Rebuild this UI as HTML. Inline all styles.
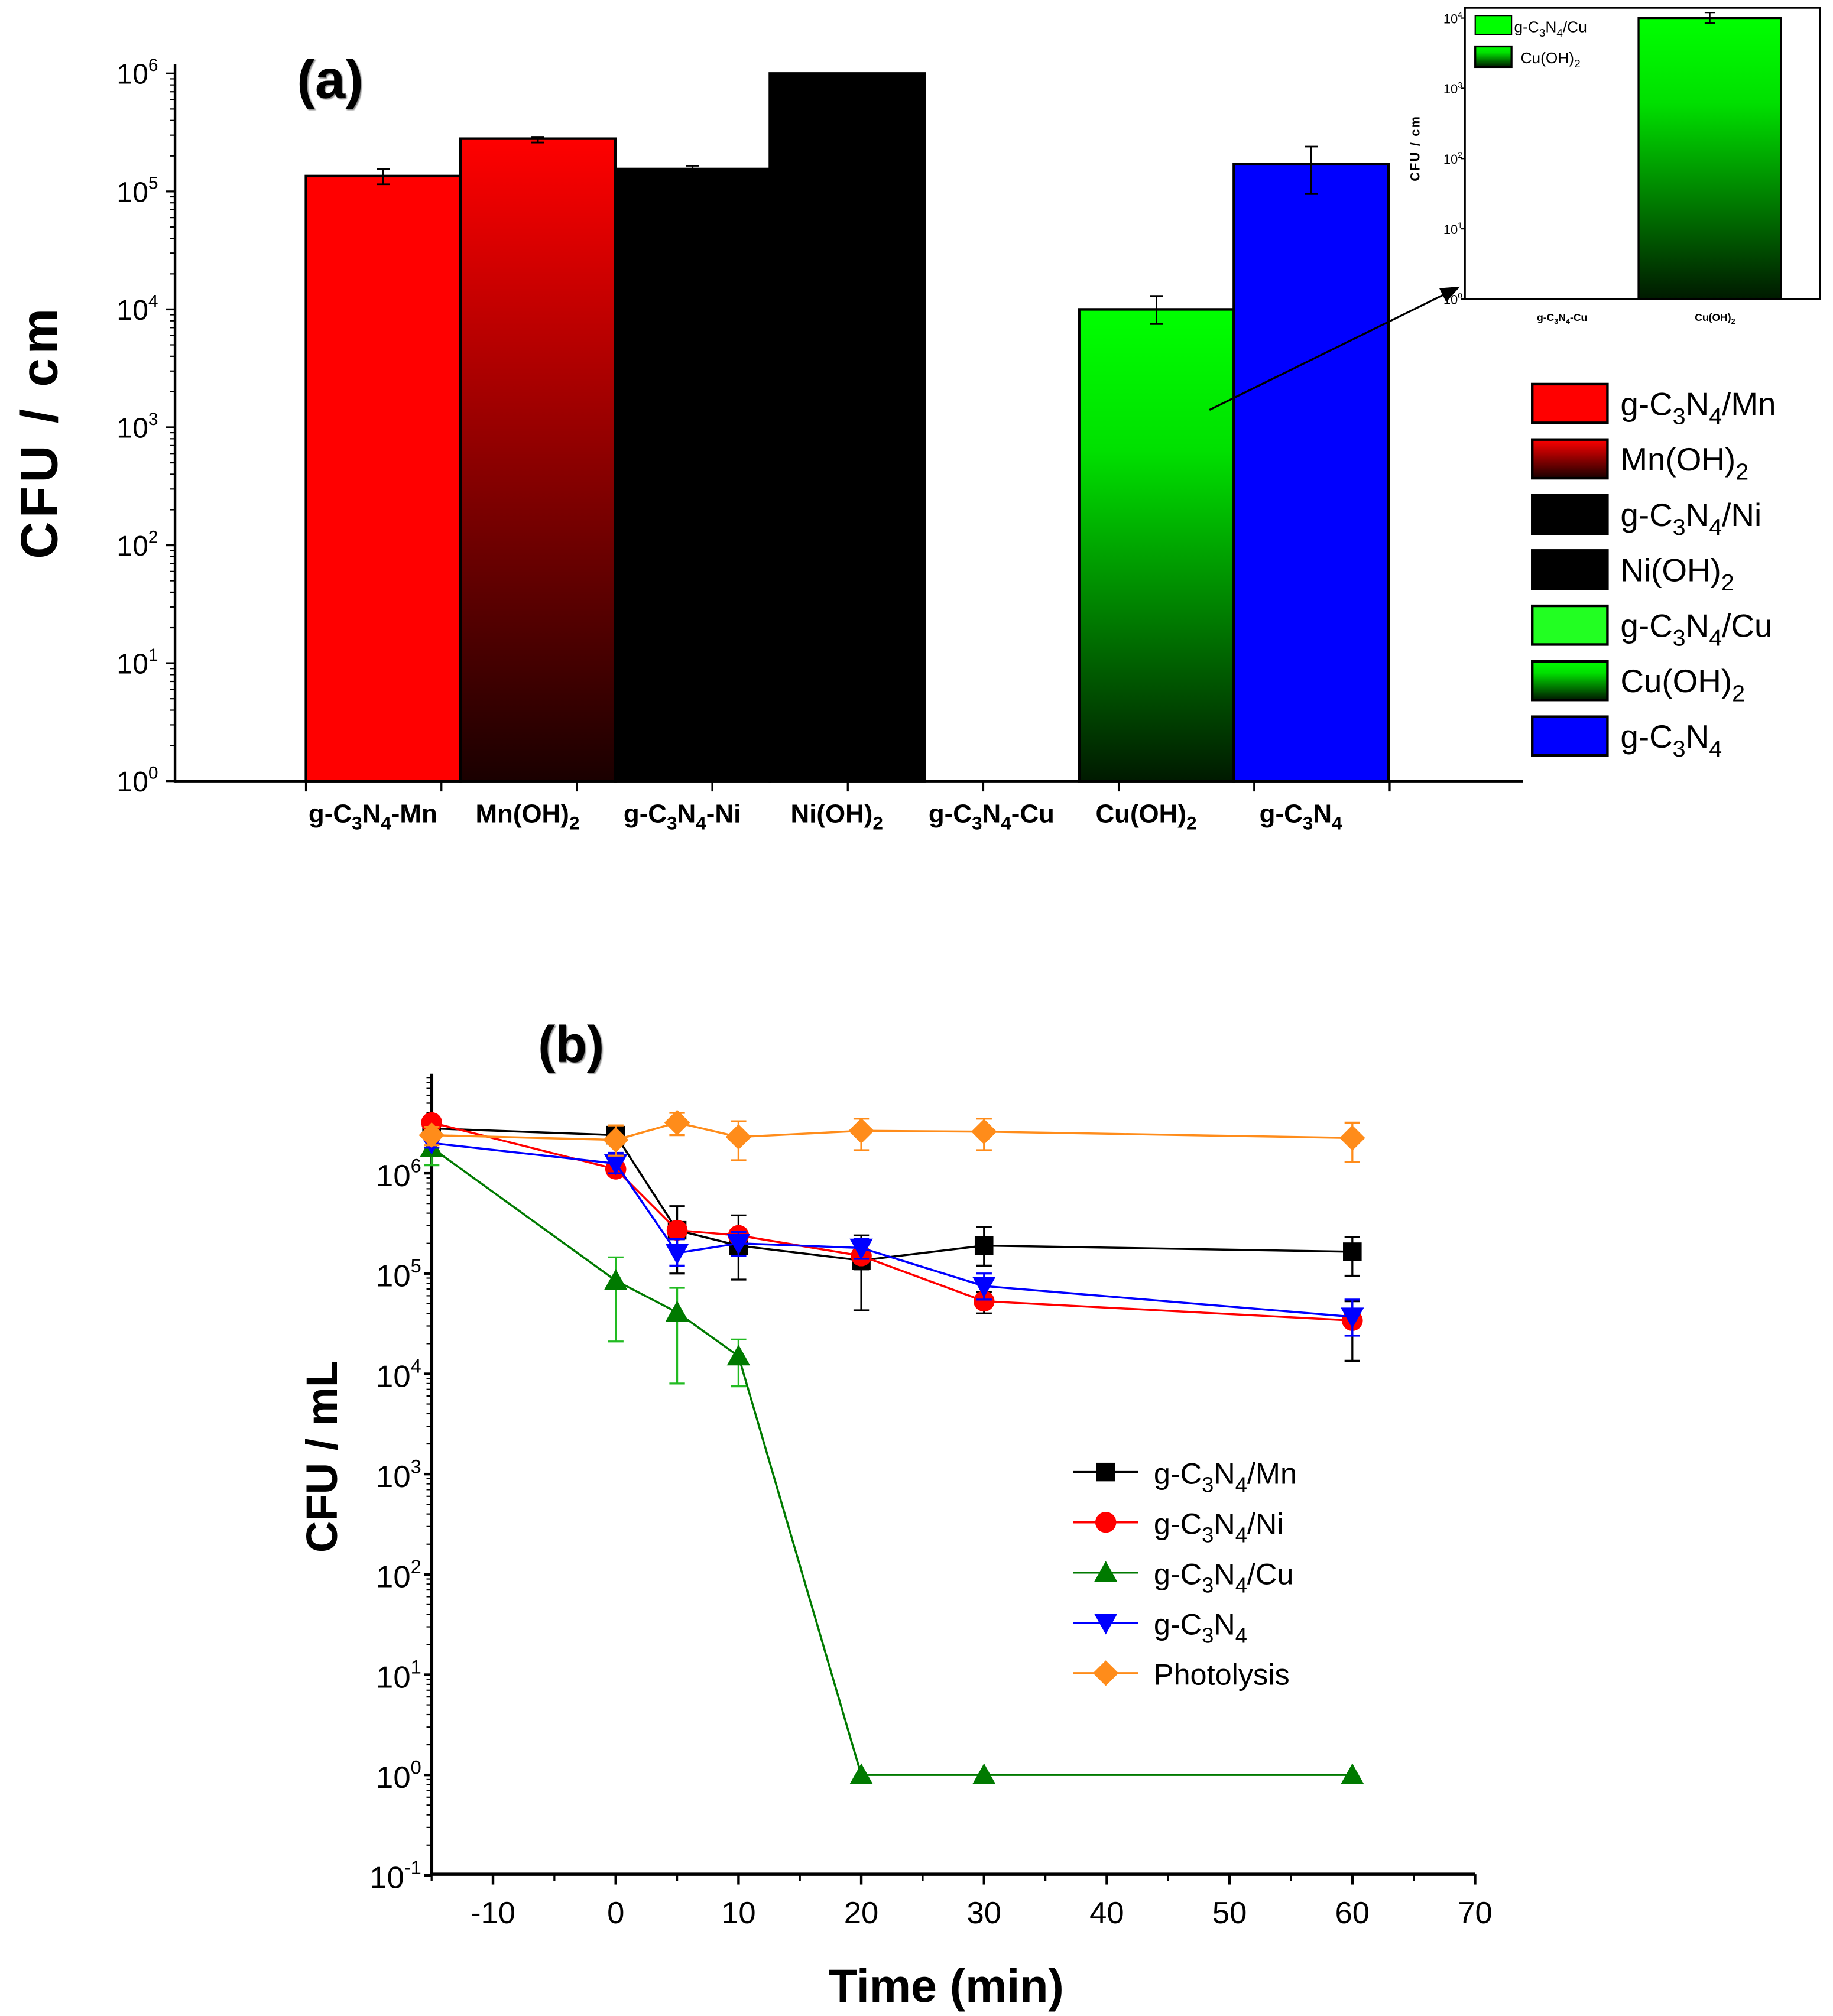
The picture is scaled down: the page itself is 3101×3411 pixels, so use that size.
<!DOCTYPE html>
<html><head><meta charset="utf-8"><style>
html,body{margin:0;padding:0;background:#fff;}
svg{display:block;}
text{font-family:"Liberation Sans Narrow","Liberation Sans",sans-serif;}
.b{font-family:"Liberation Sans",sans-serif;font-weight:bold;}
</style></head><body>
<svg id="fig" width="3101" height="3411" viewBox="0 0 1414 1564" preserveAspectRatio="none" xmlns="http://www.w3.org/2000/svg">
<defs>
<linearGradient id="gRed" x1="0" y1="0" x2="0" y2="1"><stop offset="0" stop-color="#ff0000"/><stop offset="1" stop-color="#1a0000"/></linearGradient>
<linearGradient id="gGreen" x1="0" y1="0" x2="0" y2="1"><stop offset="0" stop-color="#00ff00"/><stop offset="0.3" stop-color="#00e000"/><stop offset="1" stop-color="#001a00"/></linearGradient>
<marker id="arr" markerWidth="10" markerHeight="8" refX="9" refY="4" orient="auto"><path d="M0,0 L10,4 L0,8 z" fill="#000"/></marker>
</defs>
<g id="pa"></g>
<g id="inset"></g>
<g id="pb"></g>
</svg>
<script>
// ---- Panel (a) data ----
const barCats = ["g-C3N4-Mn","Mn(OH)2","g-C3N4-Ni","Ni(OH)2","g-C3N4-Cu","Cu(OH)2","g-C3N4"];
const barVals = [1.35e5, 2.8e5, 1.55e5, 1e6, 1, 1e4, 1.7e5];
const barErrHi = [1.55e5, 2.9e5, 1.65e5, null, null, 1.3e4, 2.4e5];
const barErrLo = [1.15e5, 2.6e5, 1.5e5, null, null, 7.5e3, 9.5e4];
const barFills = ["#ff0000","url(#gRed)","#000","#000","#22ff22","url(#gGreen)","#0000ff"];
const legendA = ["g-C|3|N|4|/Mn","Mn(OH)|2|","g-C|3|N|4|/Ni","Ni(OH)|2|","g-C|3|N|4|/Cu","Cu(OH)|2|","g-C|3|N|4|"];
const legendAFills = ["#ff0000","url(#gRed)","#000","#000","#22ff22","url(#gGreen)","#0000ff"];
const decadesA = [0,1,2,3,4,5,6];
// inset
const insetCats = ["g-C3N4-Cu","Cu(OH)2"];
const insetVals = [1, 1e4];
const insetErrHi = [null, 1.2e4];
const insetErrLo = [null, 8.5e3];
const decadesI = [0,1,2,3,4];
// ---- Panel (b) data ----
const times = [-15,0,5,10,20,30,60];
const sMn = [2.8e6,2.4e6,2.7e5,1.9e5,1.35e5,1.9e5,1.65e5];
const sMnHi = [3.0e6,2.7e6,4.7e5,3.8e5,2.4e5,2.9e5,2.3e5];
const sMnLo = [2.6e6,2.1e6,1.0e5,8.7e4,4.3e4,1.2e5,9.5e4];
const sNi = [3.2e6,1.1e6,2.7e5,2.4e5,1.5e5,5.3e4,3.4e4];
const sNiHi = [3.4e6,1.2e6,3.2e5,2.8e5,1.9e5,6.5e4,5.3e4];
const sNiLo = [3.0e6,1.0e6,2.2e5,2.0e5,1.1e5,4.0e4,1.35e4];
const sCu = [1.8e6,8.5e4,4.1e4,1.5e4,1,1,1];
const sCuHi = [2.4e6,1.45e5,7.2e4,2.2e4,1,1,1];
const sCuLo = [1.2e6,2.1e4,8e3,7.5e3,1,1,1];
const sCN = [2.0e6,1.25e6,1.6e5,2.0e5,1.8e5,7.5e4,3.7e4];
const sCNHi = [2.2e6,1.6e6,2.2e5,2.6e5,2.2e5,1.0e5,5.5e4];
const sCNLo = [1.8e6,1.0e6,1.2e5,1.5e5,1.4e5,5.5e4,2.4e4];
const sPh = [2.4e6,2.15e6,3.2e6,2.3e6,2.65e6,2.6e6,2.25e6];
const sPhHi = [2.9e6,3.0e6,4.0e6,3.3e6,3.5e6,3.5e6,3.2e6];
const sPhLo = [1.9e6,1.5e6,2.4e6,1.35e6,1.7e6,1.7e6,1.3e6];
const xTicksB = [-10,0,10,20,30,40,50,60,70];
const decadesB = [-1,0,1,2,3,4,5,6];

const NS="http://www.w3.org/2000/svg";
function mk(parent,tag,attrs){const e=document.createElementNS(NS,tag);for(const k in attrs)e.setAttribute(k,attrs[k]);parent.appendChild(e);return e;}
function subText(parent,x,y,str,size,cls,anchor){
  const t=mk(parent,'text',{x:x,y:y,'font-size':size,'text-anchor':anchor||'start'});
  if(cls)t.setAttribute('class',cls);
  const parts=str.split('|');
  parts.forEach((p,i)=>{if(!p)return;const s=mk(t,'tspan',{});s.textContent=p;
    if(i%2===1){s.setAttribute('dy',size*0.28);s.setAttribute('font-size',size*0.72);}
    else if(i>0){s.setAttribute('dy',-size*0.28);}});
  return t;
}
function powText(parent,x,y,exp,size,anchor){
  const t=mk(parent,'text',{x:x,y:y,'font-size':size,'text-anchor':anchor||'end'});
  const a=mk(t,'tspan',{});a.textContent='10';
  const b=mk(t,'tspan',{dy:-size*0.45,'font-size':size*0.62});b.textContent=String(exp);
  return t;
}

// ===== Panel A =====
const pa=document.getElementById('pa');
const AX0=135, AY0=606, AX1=1175, DEC=91.5;
const ya=v=>AY0-Math.log10(v)*DEC;
const bw=119.3, bx0=236;
const xa=i=>bx0+i*bw;
barVals.forEach((v,i)=>{
  if(v>1){
    const r=mk(pa,'rect',{x:xa(i),y:ya(v),width:bw,height:AY0-ya(v),fill:barFills[i],stroke:'#000','stroke-width':2});
    
    
  }
  if(barErrHi[i]){
    const cx=xa(i)+bw/2, g=mk(pa,'g',{stroke:'#000','stroke-width':1.3});
    
    
    mk(g,'line',{x1:cx,x2:cx,y1:ya(barErrHi[i]),y2:ya(barErrLo[i])});
    mk(g,'line',{x1:cx-5,x2:cx+5,y1:ya(barErrHi[i]),y2:ya(barErrHi[i])});
    mk(g,'line',{x1:cx-5,x2:cx+5,y1:ya(barErrLo[i]),y2:ya(barErrLo[i])});
  }
});
mk(pa,'line',{x1:AX0,x2:AX0,y1:50,y2:AY0+1,stroke:'#000','stroke-width':2});
mk(pa,'line',{x1:AX0,x2:AX1,y1:AY0,y2:AY0,stroke:'#000','stroke-width':2});
decadesA.forEach(d=>{
  mk(pa,'line',{x1:AX0-7,x2:AX0,y1:ya(10**d),y2:ya(10**d),stroke:'#000','stroke-width':1.5});
  const t=powText(pa,AX0-13,ya(10**d)+8,d,22,'end');
  
  
  if(d<6)for(let m=2;m<10;m++){const yy=ya(m*10**d);mk(pa,'line',{x1:AX0-4,x2:AX0,y1:yy,y2:yy,stroke:'#000','stroke-width':1});}
});
for(let k=0;k<9;k++){const x=236+k*104.5;mk(pa,'line',{x1:x,x2:x,y1:AY0,y2:AY0+8,stroke:'#000','stroke-width':1.5});}
const aLabels=["g-C|3|N|4|-Mn","Mn(OH)|2|","g-C|3|N|4|-Ni","Ni(OH)|2|","g-C|3|N|4|-Cu","Cu(OH)|2|","g-C|3|N|4|"];
aLabels.forEach((s,i)=>{const t=subText(pa,xa(i)+bw/2-8,638,s,20,'b','middle');
  
  });
const yla=mk(pa,'text',{x:0,y:0,'font-size':40,'text-anchor':'middle',transform:'translate(44,335) rotate(-90)','class':'b','letter-spacing':3});
yla.textContent='CFU / cm';


const ta=mk(pa,'text',{x:229,y:76,'font-size':42,'class':'b',fill:'#000',style:'text-shadow:2px 2px 2px #888'});
ta.textContent='(a)';


legendA.forEach((s,i)=>{
  const y=313+i*43;
  const g=mk(pa,'g',{});
  
  
  mk(g,'rect',{x:1182,y:y-15,width:58,height:30,fill:legendAFills[i],stroke:'#000','stroke-width':2});
  subText(g,1250,y+9,s,25,null,'start');
});
const arr=mk(pa,'line',{x1:933,y1:318,x2:1125,y2:223,stroke:'#000','stroke-width':1.5,'marker-end':'url(#arr)'});



// ===== Inset =====
const ins=document.getElementById('inset');
const IX0=1130, IX1=1404, IY0=232, ITOP=6;
const yi=v=>IY0-Math.log10(v)*54.5;
mk(ins,'rect',{x:IX0,y:ITOP,width:IX1-IX0,height:IY0-ITOP,fill:'none',stroke:'#000','stroke-width':1.5});
insetVals.forEach((v,i)=>{
  const x=1138+i*126;
  if(v>1){const r=mk(ins,'rect',{x:x,y:yi(v),width:110,height:IY0-yi(v),fill:'url(#gGreen)',stroke:'#000','stroke-width':1.5});
    
    }
  if(insetErrHi[i]){const cx=x+55;const g=mk(ins,'g',{stroke:'#000','stroke-width':1});
    mk(g,'line',{x1:cx,x2:cx,y1:yi(insetErrHi[i]),y2:yi(insetErrLo[i])});
    mk(g,'line',{x1:cx-4,x2:cx+4,y1:yi(insetErrHi[i]),y2:yi(insetErrHi[i])});
    mk(g,'line',{x1:cx-4,x2:cx+4,y1:yi(insetErrLo[i]),y2:yi(insetErrLo[i])});}
});
decadesI.forEach(d=>{powText(ins,IX0-2,yi(10**d)+4,d,10,'end');
  mk(ins,'line',{x1:IX0-3,x2:IX0,y1:yi(10**d),y2:yi(10**d),stroke:'#000'});});
const iyl=mk(ins,'text',{x:0,y:0,'font-size':10,'text-anchor':'middle',transform:'translate(1095,115) rotate(-90)','class':'b','letter-spacing':1});
iyl.textContent='CFU / cm';
subText(ins,1205,249,"g-C|3|N|4|-Cu",8,'b','middle');
subText(ins,1323,249,"Cu(OH)|2|",8,'b','middle');
mk(ins,'rect',{x:1138,y:12,width:28,height:15,fill:'#00ff00',stroke:'#000','stroke-width':1});
mk(ins,'rect',{x:1138,y:36,width:28,height:16,fill:'url(#gGreen)',stroke:'#000','stroke-width':1.5});
subText(ins,1168,25,"g-C|3|N|4|/Cu",12,null,'start');
subText(ins,1173,49,"Cu(OH)|2|",12,null,'start');

// ===== Panel B =====
const pb=document.getElementById('pb');
const BX0=333, BY0=1454, BTOP=833, BX1=1138;
const xb=t=>475+t*9.47;
const yb=v=>1377-Math.log10(v)*77.8;
mk(pb,'line',{x1:BX0,x2:BX0,y1:BTOP,y2:BY0,stroke:'#000','stroke-width':2.5});
mk(pb,'line',{x1:BX0,x2:BX1,y1:BY0,y2:BY0,stroke:'#000','stroke-width':2.5});
decadesB.forEach(d=>{
  mk(pb,'line',{x1:BX0-6,x2:BX0,y1:yb(10**d),y2:yb(10**d),stroke:'#000','stroke-width':2});
  const t=powText(pb,BX0-8,yb(10**d)+10,d,24,'end');
  
  
  for(let m=2;m<10;m++){const yy=yb(m*10**d);if(yy>=BTOP)mk(pb,'line',{x1:BX0-4,x2:BX0,y1:yy,y2:yy,stroke:'#000','stroke-width':1});}
});
for(let m=2;m<=8;m++){const yy=yb(m*1e6);if(yy>=BTOP)mk(pb,'line',{x1:BX0-4,x2:BX0,y1:yy,y2:yy,stroke:'#000','stroke-width':1});}
xTicksB.forEach(t=>{
  mk(pb,'line',{x1:xb(t),x2:xb(t),y1:BY0,y2:BY0+8,stroke:'#000','stroke-width':2});
  mk(pb,'line',{x1:xb(t-5),x2:xb(t-5),y1:BY0,y2:BY0+5,stroke:'#000','stroke-width':1.5});
  const tx=mk(pb,'text',{x:xb(t),y:BY0+38,'font-size':24,'text-anchor':'middle'});tx.textContent=String(t);
  
  
});
function marker(g,type,x,y,c){
  const s=9;
  if(type==='sq')mk(g,'rect',{x:x-s*0.8,y:y-s*0.8,width:s*1.6,height:s*1.6,fill:c});
  else if(type==='ci')mk(g,'circle',{cx:x,cy:y,r:s*0.9,fill:c});
  else if(type==='up')mk(g,'polygon',{points:`${x},${y-s} ${x-s},${y+s*0.8} ${x+s},${y+s*0.8}`,fill:c});
  else if(type==='dn')mk(g,'polygon',{points:`${x},${y+s} ${x-s},${y-s*0.8} ${x+s},${y-s*0.8}`,fill:c});
  else mk(g,'polygon',{points:`${x},${y-s*1.1} ${x+s*1.1},${y} ${x},${y+s*1.1} ${x-s*1.1},${y}`,fill:c});
}
const series=[
 {name:'g-C3N4-Mn',v:sMn,hi:sMnHi,lo:sMnLo,c:'#000',ec:'#000',m:'sq',lab:'g-C|3|N|4|/Mn'},
 {name:'g-C3N4-Ni',v:sNi,hi:sNiHi,lo:sNiLo,c:'#ff0000',ec:'#000',m:'ci',lab:'g-C|3|N|4|/Ni'},
 {name:'g-C3N4-Cu',v:sCu,hi:sCuHi,lo:sCuLo,c:'#007a00',ec:'#22bb22',m:'up',lab:'g-C|3|N|4|/Cu'},
 {name:'g-C3N4',v:sCN,hi:sCNHi,lo:sCNLo,c:'#0000ff',ec:'#0000ff',m:'dn',lab:'g-C|3|N|4|'},
 {name:'photolysis',v:sPh,hi:sPhHi,lo:sPhLo,c:'#ff8c1a',ec:'#ff8c1a',m:'di',lab:'Photolysis'}
];
series.forEach((s,k)=>{
  const g=mk(pb,'g',{});
  
  
  const eg=mk(g,'g',{stroke:s.ec,'stroke-width':1.5});
  times.forEach((t,i)=>{if(s.hi[i]===s.lo[i])return;const x=xb(t);
    mk(eg,'line',{x1:x,x2:x,y1:yb(s.hi[i]),y2:yb(s.lo[i])});
    mk(eg,'line',{x1:x-6,x2:x+6,y1:yb(s.hi[i]),y2:yb(s.hi[i])});
    mk(eg,'line',{x1:x-6,x2:x+6,y1:yb(s.lo[i]),y2:yb(s.lo[i])});});
  mk(g,'polyline',{points:times.map((t,i)=>xb(t)+','+yb(s.v[i])).join(' '),fill:'none',stroke:s.c,'stroke-width':1.6});
  times.forEach((t,i)=>marker(g,s.m,xb(t),yb(s.v[i]),s.c));
  const ly=1142+k*39;
  const lg=mk(pb,'g',{});
  
  
  mk(lg,'line',{x1:828,x2:878,y1:ly,y2:ly,stroke:s.c,'stroke-width':1.6});
  marker(lg,s.m,853,ly,s.c);
  subText(lg,890,ly+9,s.lab,23,null,'start');
});
const ylb=mk(pb,'text',{x:0,y:0,'font-size':34,'text-anchor':'middle',transform:'translate(260,1130) rotate(-90)','class':'b'});
ylb.textContent='CFU / mL';


const xlb=mk(pb,'text',{x:730,y:1553,'font-size':36,'text-anchor':'middle','class':'b'});
xlb.textContent='Time (min)';


const tb=mk(pb,'text',{x:415,y:824,'font-size':40,'class':'b',style:'text-shadow:2px 2px 2px #888'});
tb.textContent='(b)';


</script>
</body></html>
